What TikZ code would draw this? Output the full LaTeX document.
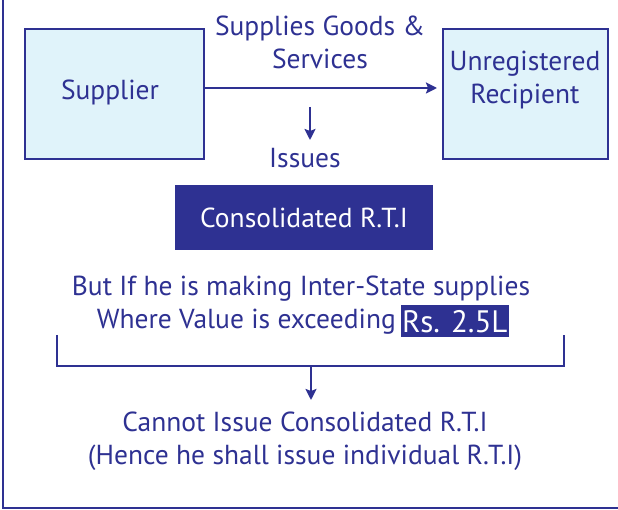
\documentclass[tikz,border=0pt]{standalone}
\usepackage{fontspec}
\setmainfont{PT Sans}
\usetikzlibrary{arrows.meta}
\definecolor{dblue}{HTML}{2E3192}
\definecolor{lblue}{HTML}{E0F3FA}
\begin{document}
\begin{tikzpicture}[x=1pt,y=-1pt,
  txt/.style={text=dblue,font=\fontsize{27.5}{33}\selectfont,align=center,inner sep=0pt},
  lbox/.style={draw=dblue,line width=2.6pt,fill=lblue},
  con/.style={draw=dblue,line width=2.6pt,-{Stealth[length=11pt,width=11pt,inset=2pt]}},
  frm/.style={draw=dblue,line width=1.8pt}]
\useasboundingbox (0,0) rectangle (618,510);
% frame
\coordinate (ftop) at (3,0);
\coordinate (fbl) at (3,508);
\coordinate (fbr) at (618,508);
\draw[frm] (ftop) -- (fbl) -- (fbr);
% boxes
\path[lbox] (25,29) rectangle (204,159);
\node[txt] (sup) at (110,92) {Supplier};
\coordinate (supE) at (204,88);
\path[lbox] (443,29) rectangle (608,159);
\node[txt] (unr) at (525,80) {Unregistered\\Recipient};
\coordinate (unrW) at (437,88);
\draw[con] (supE) -- (unrW);
\node[txt] (sgs) at (320,42) {Supplies Goods \&\\Services};
\coordinate (a1s) at (310,107);
\coordinate (a1e) at (310,140);
\draw[con] (a1s) -- (a1e);
\node[txt] (iss) at (305,158) {Issues};
\node[fill=dblue,text=white,font=\fontsize{27.5}{33}\selectfont,minimum width=258pt,minimum height=65pt,inner sep=0pt] (crti) at (304,218) {Consolidated R.T.I};
\node[txt] (but) at (301,289) {But If he is making Inter-State supplies};
\node[txt,anchor=east] (wve) at (396,322) {Where Value is exceeding};
\node[fill=dblue,text=white,font=\fontsize{31}{36}\selectfont,anchor=west,minimum height=32pt,inner xsep=1pt,inner ysep=0pt] (rs) at (401,321.5) {Rs. 2.5L};
% bracket
\coordinate (bl) at (57,335);
\coordinate (bll) at (57,366);
\coordinate (brr) at (564,366);
\coordinate (br) at (564,335);
\draw[frm,line width=2.4pt] (bl) -- (bll) -- (brr) -- (br);
\coordinate (a2s) at (311,367);
\coordinate (a2e) at (311,400);
\draw[con] (a2s) -- (a2e);
\node[txt] (cannot) at (305,441) {Cannot Issue Consolidated R.T.I\\(Hence he shall issue individual R.T.I)};
\end{tikzpicture}
\end{document}
